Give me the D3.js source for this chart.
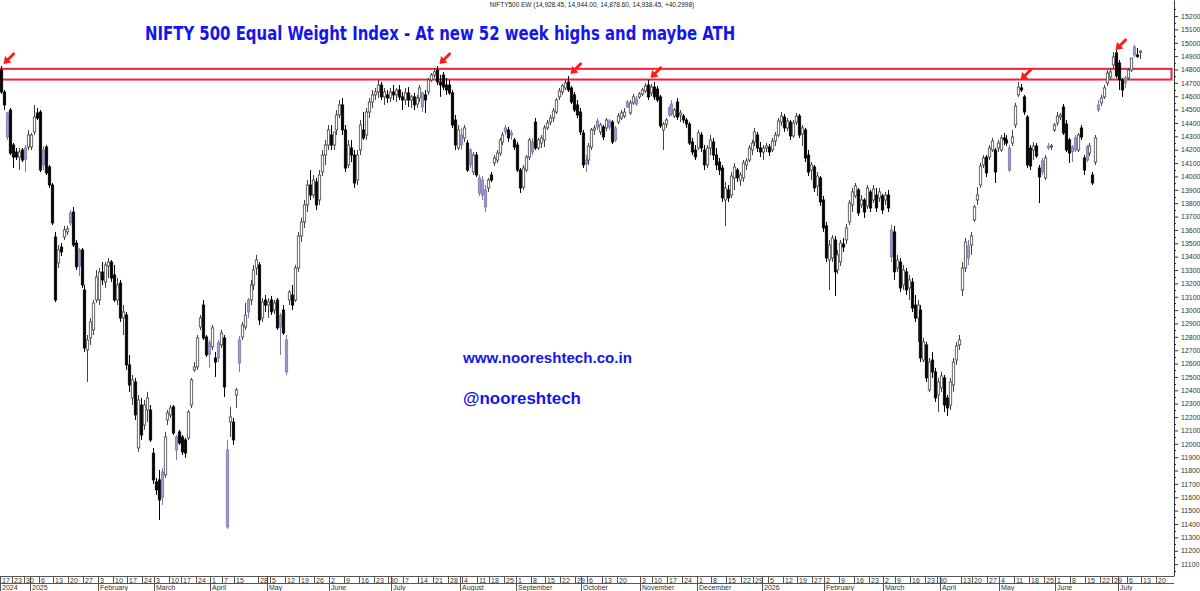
<!DOCTYPE html>
<html lang="en">
<head>
<meta charset="UTF-8">
<title>NIFTY 500 Equal Weight Index</title>
<script src="https://d3js.org/d3.v7.min.js"></script>
<style>
  body { margin: 0; background: #fff; }
  svg text { font-family: "Liberation Sans", Arial, sans-serif; }
</style>
</head>
<body>
<div class="canvas"></div>
<script>
// daily candles, one array per month: [open, high, low, close]
const dec24 = [[14796,14826,14617,14632],[14632,14647,14497,14535],[14295,14482,14273,14475],[14497,14512,14160,14175],[14235,14250,14063,14145],[14183,14213,14123,14145],[14145,14213,14048,14183],[14198,14213,14108,14123],[14213,14235,14033,14130],[14220,14348,14198,14310]];
const jan25 = [[14220,14325,14198,14310],[14333,14535,14310,14445],[14475,14512,14422,14437],[14482,14497,14033,14048],[14198,14228,14048,14086],[14220,14235,14011,14026],[14071,14086,13914,13936],[13936,13951,13637,13652],[13547,13585,13061,13076],[13353,13487,13315,13450],[13472,13502,13405,13435],[13547,13630,13525,13600],[13585,13630,13562,13607],[13727,13749,13630,13652],[13734,13772,13472,13487],[13502,13525,13300,13323],[13450,13465,13256,13330],[13450,13465,13166,13188],[13151,13188,12687,12717],[12702,12814,12463,12777],[12792,12941,12740,12912],[12852,13076,12814,13054],[13076,13300,13054,13248]];
const feb25 = [[13076,13315,13038,13285],[13285,13360,13188,13226],[13210,13360,13166,13338],[13330,13390,13240,13360],[13360,13375,13210,13240],[13263,13338,13061,13076],[13076,13240,13038,13188],[13203,13226,12912,12941],[12941,13038,12814,12986],[12964,12986,12553,12590],[12590,12665,12388,12440],[12343,12515,12290,12478],[12463,12493,12178,12216],[11969,12365,11939,12328],[12290,12343,12029,12066],[12141,12328,12104,12290],[12253,12388,12163,12343],[12253,12290,12014,12029],[11930,11969,11700,11730]];
const mar25 = [[11715,11745,11617,11655],[11730,11804,11430,11580],[11790,11819,11543,11600],[11767,12089,11745,12051],[12178,12253,12141,12231],[12216,12290,12193,12268],[12276,12290,12066,12081],[11954,12066,11879,12051],[12089,12104,11992,12006],[12051,12066,11916,11939],[12029,12044,11894,11931],[12044,12253,12029,12238],[12290,12493,12268,12478],[12553,12612,12538,12575],[12575,12814,12553,12792],[12874,12964,12852,12941],[13038,13076,12777,12792],[12799,12814,12650,12665],[12755,12777,12568,12670]];
const apr25 = [[12725,12889,12702,12867],[12642,12687,12500,12612],[12755,12777,12612,12642],[12740,12852,12717,12829],[12792,12814,12350,12425],[11378,12029,11363,11954],[12163,12276,12051,12201],[12163,12193,11992,12029],[12365,12418,12268,12403],[12777,12807,12538,12605],[12799,12911,12777,12889],[12874,13054,12852,12964],[13076,13091,12941,12985],[13076,13226,13038,13188],[13188,13338,13151,13300],[13315,13413,13263,13375],[13338,13360,12889,12926],[12941,13091,12911,13061],[13076,13113,12986,13038]];
const may25 = [[13038,13091,12941,13061],[13076,13106,12964,12986],[13001,13076,12971,13054],[13076,13091,12852,12867],[12960,12979,12665,12875],[13001,13038,12814,12829],[12538,12814,12515,12777],[13076,13151,13038,13136],[13113,13188,13001,13038],[13076,13338,13061,13315],[13315,13585,13286,13555],[13555,13690,13510,13660],[13660,13824,13615,13787],[13787,13973,13734,13936],[13936,14048,13824,13861],[13861,14011,13839,13973],[13959,13989,13749,13787],[13824,14048,13787,14011],[14033,14198,14003,14160],[14160,14273,14086,14235],[14235,14385,14198,14348]];
const jun25 = [[14310,14385,14198,14235],[14235,14333,14198,14333],[14348,14497,14310,14460],[14460,14572,14437,14535],[14535,14587,14310,14348],[14348,14385,14033,14063],[14086,14273,14063,14235],[14213,14273,14108,14160],[14160,14198,13914,13951],[13973,14198,13936,14160],[14198,14422,14160,14385],[14348,14482,14273,14288],[14310,14512,14273,14482],[14482,14587,14437,14557],[14557,14647,14512,14610],[14610,14662,14572,14632],[14632,14722,14587,14684],[14684,14707,14572,14595],[14595,14662,14535,14632],[14610,14647,14550,14587],[14587,14662,14557,14632]];
const jul25 = [[14632,14684,14572,14610],[14610,14662,14557,14647],[14647,14684,14572,14595],[14595,14632,14497,14572],[14572,14662,14535,14625],[14625,14669,14520,14572],[14572,14610,14512,14595],[14595,14625,14497,14535],[14542,14610,14512,14587],[14587,14684,14557,14662],[14520,14632,14482,14625],[14610,14647,14475,14572],[14632,14737,14610,14722],[14722,14774,14707,14759],[14759,14811,14737,14782],[14796,14826,14684,14707],[14707,14759,14595,14684],[14759,14782,14647,14669],[14684,14737,14610,14647],[14684,14722,14610,14625],[14625,14647,14363,14385],[14422,14460,14198,14235],[14213,14385,14198,14348]];
const aug25 = [[14235,14363,14198,14310],[14288,14385,14258,14363],[14250,14273,14033,14048],[14198,14213,14063,14086],[14033,14183,14011,14160],[14160,14183,13996,14011],[13876,14011,13854,13989],[13861,14003,13824,13973],[13772,13936,13734,13899],[13914,13989,13884,13973],[14011,14033,13959,13973],[14101,14160,14078,14138],[14123,14198,14101,14175],[14175,14288,14153,14273],[14258,14333,14235,14310],[14363,14385,14310,14333],[14348,14370,14258,14288],[14325,14348,14273,14310],[14273,14288,14198,14220]];
const sep25 = [[14235,14258,14033,14048],[14048,14063,13876,13914],[13921,14086,13899,14063],[14048,14160,14033,14145],[14145,14288,14123,14273],[14183,14288,14160,14258],[14407,14437,14198,14213],[14213,14288,14198,14273],[14250,14310,14213,14288],[14273,14385,14220,14363],[14363,14422,14348,14400],[14407,14460,14385,14437],[14437,14512,14407,14490],[14482,14587,14467,14572],[14595,14662,14572,14640],[14632,14692,14610,14677],[14662,14722,14647,14699],[14707,14752,14632,14647],[14662,14677,14542,14557],[14610,14632,14482,14497],[14535,14572,14437,14460],[14482,14512,14310,14333]];
const oct25 = [[14325,14348,14063,14086],[14123,14160,14033,14095],[14123,14250,14086,14228],[14220,14363,14198,14348],[14348,14385,14310,14363],[14415,14437,14348,14370],[14333,14400,14310,14385],[14370,14385,14273,14295],[14363,14437,14340,14422],[14370,14430,14348,14415],[14407,14422,14243,14258],[14363,14378,14258,14273],[14407,14475,14392,14452],[14437,14497,14422,14475],[14452,14512,14437,14482],[14557,14572,14512,14520],[14475,14572,14460,14550],[14550,14617,14535,14595],[14542,14602,14527,14580],[14595,14632,14580,14617]];
const nov25 = [[14617,14662,14602,14647],[14640,14699,14625,14677],[14684,14722,14572,14595],[14625,14692,14602,14669],[14669,14707,14572,14595],[14654,14677,14557,14572],[14595,14610,14363,14378],[14348,14407,14198,14392],[14392,14437,14363,14422],[14512,14527,14445,14460],[14542,14572,14452,14467],[14452,14512,14437,14497],[14557,14587,14422,14445],[14460,14497,14407,14475],[14452,14467,14400,14422],[14422,14437,14363,14392],[14392,14407,14235,14250],[14258,14288,14160,14183],[14198,14235,14123,14145]];
const dec25 = [[14213,14348,14198,14325],[14310,14333,14183,14213],[14198,14235,14048,14086],[14086,14235,14063,14213],[14213,14310,14160,14273],[14258,14288,14123,14160],[14160,14213,14048,14086],[14108,14138,14011,14048],[14063,14086,13809,13839],[13824,13959,13630,13914],[13899,13936,13809,13839],[13861,14033,13839,14003],[13989,14101,13899,14071],[14048,14063,13959,13989],[13973,14033,13929,14011],[13989,14123,13959,14101],[14086,14138,14048,14116],[14123,14235,14108,14213],[14198,14273,14160,14250],[14258,14363,14228,14333],[14310,14333,14183,14213],[14213,14258,14145,14183]];
const jan26 = [[14183,14235,14123,14213],[14213,14250,14183,14228],[14220,14243,14153,14183],[14198,14288,14183,14265],[14265,14333,14228,14310],[14310,14437,14295,14415],[14407,14482,14378,14452],[14445,14467,14333,14363],[14363,14437,14340,14415],[14407,14422,14273,14303],[14303,14422,14288,14400],[14407,14475,14385,14452],[14452,14467,14288,14310],[14318,14385,14228,14363],[14348,14363,14108,14138],[14160,14198,14003,14033],[14048,14108,13973,14086],[14071,14086,13884,13914],[13929,14033,13854,14003],[13989,14003,13779,13809],[13824,13854,13585,13615]];
const feb26 = [[13630,13660,13360,13390],[13375,13525,13151,13487],[13390,13562,13360,13540],[13525,13555,13106,13286],[13300,13450,13270,13413],[13360,13525,13330,13502],[13495,13540,13435,13472],[13525,13645,13495,13615],[13660,13824,13637,13802],[13787,13914,13734,13884],[13854,13951,13839,13929],[13899,13914,13705,13727],[13787,13861,13764,13824],[13824,13839,13690,13734],[13779,13936,13757,13914],[13884,13899,13734,13764],[13824,13936,13802,13906],[13861,13914,13734,13764],[13839,13914,13809,13884],[13854,13869,13719,13749]];
const mar26 = [[13824,13884,13787,13861],[13861,13899,13734,13764],[13400,13640,13360,13600],[13585,13630,13226,13286],[13315,13413,13286,13375],[13360,13390,13136,13166],[13188,13338,13151,13300],[13286,13315,13113,13151],[13166,13263,13076,13226],[13210,13240,12986,13016],[13038,13113,12911,12941],[12941,13076,12762,13038],[13001,13038,12612,12642],[12627,12792,12612,12762],[12740,12762,12463,12493],[12403,12642,12388,12612],[12627,12687,12493,12538],[12538,12568,12313,12343],[12365,12493,12238,12463]];
const apr26 = [[12418,12538,12388,12508],[12493,12515,12238,12290],[12343,12365,12208,12268],[12290,12493,12253,12463],[12440,12642,12388,12612],[12627,12762,12590,12732],[12740,12814,12702,12777],[13151,13360,13106,13315],[13315,13540,13286,13510],[13390,13525,13338,13480],[13487,13585,13413,13555],[13675,13787,13660,13772],[13824,13921,13787,13861],[13936,14101,13914,14078],[14086,14160,14063,14138],[14145,14160,13996,14026],[14145,14235,14123,14213],[14198,14288,14183,14265],[14198,14213,13951,14033],[14213,14273,14183,14250]];
const may26 = [[14198,14310,14183,14288],[14288,14325,14235,14273],[14273,14310,14228,14250],[14048,14235,14033,14213],[14250,14348,14228,14295],[14385,14550,14363,14527],[14610,14707,14595,14669],[14662,14692,14632,14647],[14595,14610,14460,14482],[14445,14460,14063,14086],[14213,14235,14048,14078],[14198,14258,14123,14228],[14228,14250,14138,14153],[14063,14086,13801,13996],[14116,14138,14011,14033],[13989,14160,13973,14138],[14228,14250,14198,14213],[14220,14243,14198,14228],[14348,14400,14333,14385]];
const jun26 = [[14400,14482,14378,14452],[14445,14475,14422,14460],[14520,14542,14310,14325],[14392,14422,14183,14198],[14273,14288,14101,14175],[14220,14235,14108,14185],[14288,14310,14183,14198],[14198,14325,14183,14310],[14363,14385,14273,14295],[14138,14160,14011,14048],[14220,14235,14108,14123],[14175,14250,14153,14228],[14011,14033,13936,13951],[14108,14310,14086,14288],[14535,14572,14482,14497],[14550,14610,14527,14587],[14595,14684,14580,14662],[14699,14796,14677,14774],[14744,14811,14722,14782],[14834,14931,14811,14894],[14924,14946,14737,14752]];
const jul26 = [[14849,14871,14647,14722],[14722,14737,14595,14647],[14737,14752,14662,14700],[14737,14811,14722,14796],[14796,14886,14782,14886],[14969,14984,14894,14909],[14909,14961,14886,14898],[14928.45,14944.00,14878.60,14938.45]];

// exchange holidays and the date span of the axis (blank bars after the last candle)
const holidays = ['2024-12-25','2025-02-26','2025-03-14','2025-03-31','2025-04-10','2025-04-14','2025-04-18','2025-05-01','2025-08-15','2025-08-27','2025-10-02','2025-10-21','2025-10-22','2025-11-05','2025-12-25','2026-01-26','2026-03-03','2026-03-26','2026-03-31','2026-04-03','2026-04-14','2026-05-01','2026-05-28','2026-06-26'];
const firstDay = '2024-12-17', lastDay = '2026-07-24';

const zone = [14725, 14805];              // resistance band
const arrowBars = [0, 147, 191, 218, 343, 375];
const yTicks = d3.range(11100, 15201, 100);
const yMinor = d3.range(11050, 15301, 100);

const header = 'NIFTY500 EW (14,928.45, 14,944.00, 14,878.60, 14,938.45, +40.2998)';
const title = 'NIFTY 500 Equal Weight Index - At new 52 week highs and maybe ATH';
const site = 'www.nooreshtech.co.in';
const handle = '@nooreshtech';

const W = 1200, H = 591;
const axisX = 1174, plotBottom = 576;

const fmt = d3.utcFormat('%Y-%m-%d');
const hol = new Set(holidays);
const days = d3.utcDay.range(new Date(firstDay), d3.utcDay.offset(new Date(lastDay), 1))
  .filter(d => d.getUTCDay() % 6 !== 0 && !hol.has(fmt(d)));

const rows = [].concat(dec24, jan25, feb25, mar25, apr25, may25, jun25, jul25, aug25, sep25, oct25, nov25,
                       dec25, jan26, feb26, mar26, apr26, may26, jun26, jul26);
const candles = rows.map((r, i) => ({ i, date: days[i], o: r[0], h: r[1], l: r[2], c: r[3] }));
candles.forEach((d, i) => { d.prev = i ? candles[i - 1].c : d.o; });

const svg = d3.select('.canvas').append('svg')
  .attr('width', W).attr('height', H).style('display', 'block');

const x = d3.scaleBand().domain(d3.range(days.length)).range([0, 1171]);
const y = d3.scaleLinear().domain([11011, 15320]).range([plotBottom, 0]);
const cx = i => Math.round(x(i) + x.bandwidth() / 2) + 0.5;

// resistance box
svg.append('rect')
  .attr('x', 0.5).attr('y', y(zone[1]))
  .attr('width', axisX - 3).attr('height', y(zone[0]) - y(zone[1]))
  .attr('fill', 'none').attr('stroke', '#f0203a').attr('stroke-width', 2);

// candles: hollow when up, black when down, lavender when the body and the day's change disagree
const kind = d => d.c < d.o ? (d.c <= d.prev ? 'down' : 'mix') : (d.c >= d.prev ? 'up' : 'mix');
const fill = { up: '#ffffff', down: '#000000', mix: '#9d9bcc' };
const edge = { up: '#444444', down: '#000000', mix: '#7d7aad' };

const g = svg.append('g');
const cg = g.selectAll('g').data(candles).enter().append('g');
cg.append('line')
  .attr('x1', d => cx(d.i)).attr('x2', d => cx(d.i))
  .attr('y1', d => y(d.h)).attr('y2', d => y(d.l))
  .attr('stroke', d => edge[kind(d)]).attr('stroke-width', 1);
cg.append('rect')
  .attr('x', d => cx(d.i) - 1.2)
  .attr('y', d => y(Math.max(d.o, d.c)))
  .attr('width', 2.4)
  .attr('height', d => Math.max(0.8, Math.abs(y(d.o) - y(d.c))))
  .attr('fill', d => fill[kind(d)])
  .attr('stroke', d => edge[kind(d)]).attr('stroke-width', 0.8);

// red arrows pointing at the highs
const ag = svg.selectAll('.arrow').data(arrowBars.map(i => candles[i])).enter().append('g')
  .attr('transform', d => `translate(${cx(d.i) + 2},${y(d.h) - 2})`);
ag.append('line').attr('x1', 3).attr('y1', -3).attr('x2', 11).attr('y2', -11)
  .attr('stroke', '#ff1a1a').attr('stroke-width', 2.8);
ag.append('path').attr('d', 'M0,0L8,-1.5L1.5,-8Z').attr('fill', '#ff1a1a');

// texts
function fit(sel, width) {
  const len = sel.node().getComputedTextLength();
  sel.attr('font-size', parseFloat(sel.attr('font-size')) * width / len);
  return sel;
}
fit(svg.append('text').attr('x', 592).attr('y', 7).attr('text-anchor', 'middle')
  .attr('font-size', 7).attr('fill', '#222').text(header), 205);
fit(svg.append('g').attr('transform', 'translate(145,40) scale(1,1.18)').append('text')
  .style('font-family', '"Liberation Sans Narrow", "DejaVu Sans Condensed", sans-serif')
  .attr('font-weight', 'bold').attr('font-size', 18).attr('fill', '#1515ee').text(title), 590);
fit(svg.append('text').attr('x', 463).attr('y', 363)
  .attr('font-weight', 'bold').attr('font-size', 16).attr('fill', '#1515ee').text(site), 169);
fit(svg.append('text').attr('x', 463).attr('y', 404)
  .attr('font-weight', 'bold').attr('font-size', 16).attr('fill', '#1515ee').text(handle), 118);

// y axis
const yAxis = svg.append('g').attr('transform', `translate(${axisX},0)`)
  .call(d3.axisRight(y).tickValues(yTicks).tickSize(4).tickSizeOuter(0).tickPadding(3).tickFormat(d3.format('d')));
yAxis.select('.domain').attr('stroke', '#333');
yAxis.selectAll('.tick line').attr('stroke', '#333');
yAxis.selectAll('text').attr('font-size', 7).attr('fill', '#333').style('font-family', '"Liberation Sans", Arial, sans-serif');
yAxis.selectAll('.minor').data(yMinor).enter().append('line').attr('class', 'minor')
  .attr('x1', 0).attr('x2', 2).attr('y1', d => Math.round(y(d)) + 0.5).attr('y2', d => Math.round(y(d)) + 0.5)
  .attr('stroke', '#333');

// x axis: week row and month row
const xa = svg.append('g').attr('stroke', '#555').attr('shape-rendering', 'crispEdges');
xa.append('line').attr('x1', 0).attr('x2', axisX).attr('y1', plotBottom + 0.5).attr('y2', plotBottom + 0.5);
xa.append('line').attr('x1', 0).attr('x2', axisX).attr('y1', plotBottom + 7.5).attr('y2', plotBottom + 7.5);

const weekIdx = [];
days.forEach((d, i) => {
  const newWeek = i === 0 || +d3.utcMonday.floor(d) !== +d3.utcMonday.floor(days[i - 1]);
  if (newWeek && (weekIdx.length === 0 || i - weekIdx[weekIdx.length - 1] >= 4)) weekIdx.push(i);
});
const monthIdx = days.map((d, i) => i).filter(i => i === 0 || days[i].getUTCMonth() !== days[i - 1].getUTCMonth());

xa.selectAll('.wk').data(weekIdx).enter().append('line')
  .attr('x1', i => Math.round(x(i)) + 0.5).attr('x2', i => Math.round(x(i)) + 0.5)
  .attr('y1', plotBottom).attr('y2', plotBottom + 7);
xa.selectAll('.mo').data(monthIdx).enter().append('line')
  .attr('x1', i => Math.round(x(i)) + 0.5).attr('x2', i => Math.round(x(i)) + 0.5)
  .attr('y1', plotBottom).attr('y2', H);

const labels = svg.append('g').attr('font-size', 7).attr('fill', '#333');
labels.selectAll('.wl').data(weekIdx).enter().append('text')
  .attr('x', i => Math.round(x(i)) + 2).attr('y', plotBottom + 6.5)
  .text(i => days[i].getUTCDate());
labels.selectAll('.ml').data(monthIdx).enter().append('text')
  .attr('x', i => Math.round(x(i)) + 2).attr('y', H - 1.5)
  .text(i => (i === 0 || days[i].getUTCMonth() === 0) ? d3.utcFormat('%Y')(days[i]) : d3.utcFormat('%B')(days[i]));
</script>
</body>
</html>
